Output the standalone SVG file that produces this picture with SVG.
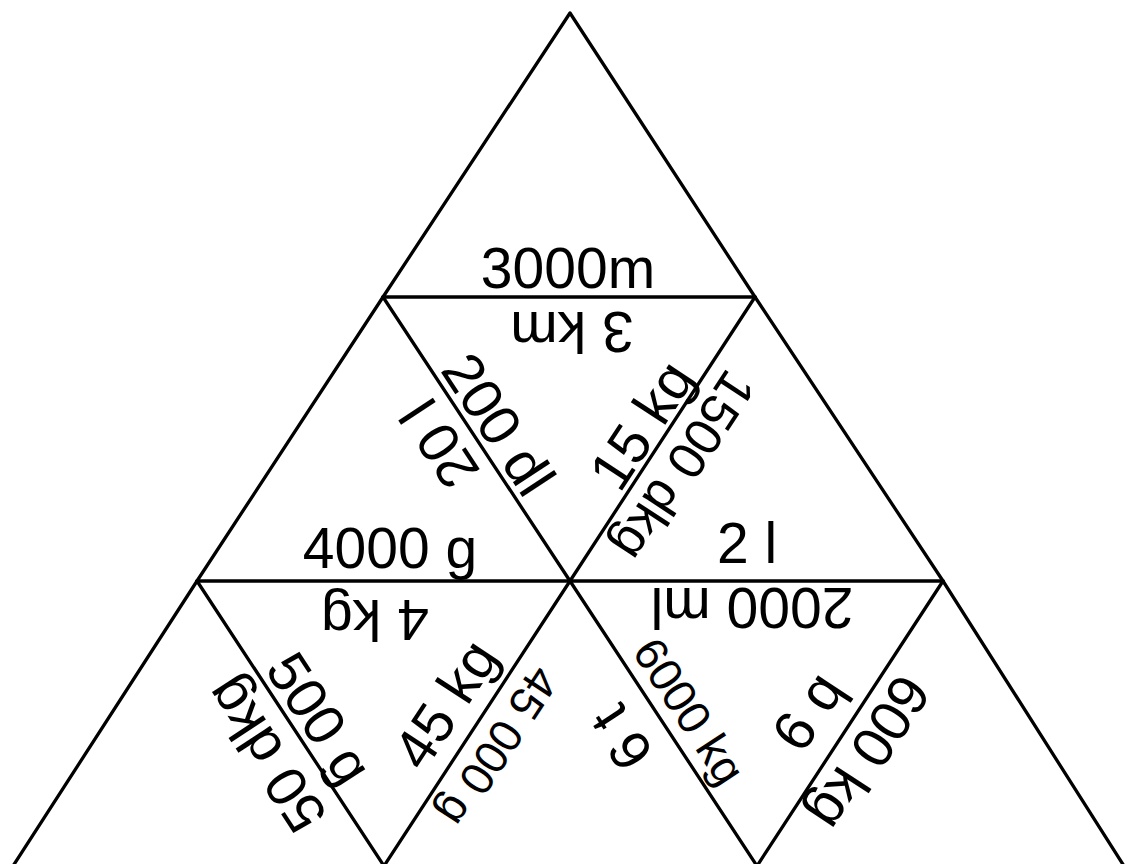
<svg xmlns="http://www.w3.org/2000/svg" width="1126" height="864" viewBox="0 0 1126 864">
<style>
.e{stroke:#000;stroke-width:3.3;fill:none;stroke-linecap:round;stroke-linejoin:round}
text{font-family:"Liberation Sans",Arial,sans-serif;font-size:57px;fill:#000;text-anchor:middle}
.s1{font-size:52px}.s2{font-size:46px}
</style>
<rect width="1126" height="864" fill="#fff"/>
<g id="edges">
<polyline class="e" points="13,866 197,581 383,297 570,13 755,297 943,581 1124,866"/>
<line class="e" x1="383" y1="297" x2="755" y2="297"/>
<line class="e" x1="197" y1="581" x2="943" y2="581"/>
<line class="e" x1="383" y1="297" x2="570" y2="581"/>
<line class="e" x1="755" y1="297" x2="570" y2="581"/>
<line class="e" x1="197" y1="581" x2="384" y2="866"/>
<line class="e" x1="570" y1="581" x2="384" y2="866"/>
<line class="e" x1="570" y1="581" x2="757" y2="866"/>
<line class="e" x1="943" y1="581" x2="757" y2="866"/>
</g>
<g id="tri-top"><text transform="translate(568,288)">3000m</text></g>
<g id="tri-mid">
<text transform="translate(572,312) rotate(180)">3 km</text>
<text transform="translate(482,435) rotate(56.8)">200 dl</text>
<text transform="translate(658,436) rotate(-56.8)">15 kg</text>
</g>
<g id="tri-row2-left">
<text transform="translate(456,433) rotate(-123.2)">20 l</text>
<text transform="translate(390,568)">4000 g</text>
</g>
<g id="tri-row2-right">
<text class="s1" transform="translate(669,456) rotate(123.2)">1500 dkg</text>
<text transform="translate(747,563)">2 l</text>
</g>
<g id="tri-row3-1"><text transform="translate(282,744) rotate(-123.2)">50 dkg</text></g>
<g id="tri-row3-2">
<text transform="translate(375,600) rotate(180)">4 kg</text>
<text transform="translate(303,729) rotate(56.8)">500 g</text>
<text transform="translate(462,715) rotate(-56.8)">45 kg</text>
</g>
<g id="tri-row3-3">
<text class="s2" transform="translate(485,738) rotate(123.2)">45 000 g</text>
<text transform="translate(638,727) rotate(-123.2)">6 t</text>
</g>
<g id="tri-row3-4">
<text transform="translate(752,588) rotate(180)">2000 ml</text>
<text class="s2" transform="translate(676,720) rotate(56.8)">6000 kg</text>
<text transform="translate(824,722) rotate(-56.8)">6 q</text>
</g>
<g id="tri-row3-5"><text transform="translate(853,742) rotate(123.2)">600 kg</text></g>
</svg>
